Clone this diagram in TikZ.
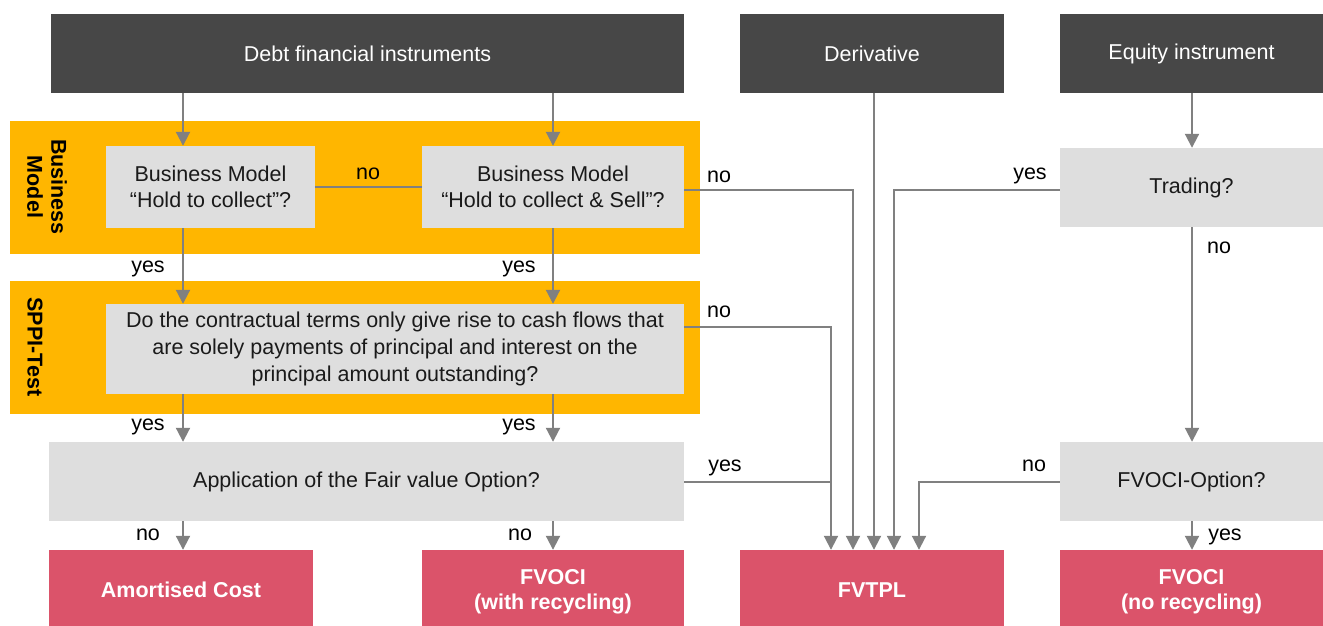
\documentclass[tikz,border=0pt]{standalone}
\usepackage{fontspec}
\setmainfont{Liberation Sans}
\usetikzlibrary{arrows.meta}
\definecolor{darkbox}{HTML}{474747}
\definecolor{bandorange}{HTML}{FFB600}
\definecolor{qgray}{HTML}{DEDEDE}
\definecolor{resred}{HTML}{DB536A}
\definecolor{linegray}{HTML}{808080}
\definecolor{txt}{HTML}{1A1A1A}
\tikzset{
  base/.style={inner sep=0pt, align=center, font=\fontsize{21.5}{26.5}\selectfont},
  topbox/.style={base, fill=darkbox, text=white},
  qbox/.style={base, fill=qgray, text=txt},
  resbox/.style={base, fill=resred, text=white, font=\fontsize{21.5}{25}\selectfont\bfseries},
  band/.style={fill=bandorange, inner sep=0pt},
  sidelbl/.style={base, rotate=-90, font=\fontsize{21.5}{24}\selectfont\bfseries, text=black},
  lbl/.style={base, text=black},
  conn/.style={draw=linegray, line width=2pt},
  arr/.style={conn, -{Triangle[width=14pt,length=14pt]}}
}
\begin{document}
\begin{tikzpicture}[x=1pt,y=-1pt]
\useasboundingbox (0,0) rectangle (1323,626);
% bands
\node[band, minimum width=690, minimum height=133] (bmband) at (355,187.5) {};
\node[band, minimum width=690, minimum height=133] (sppiband) at (355,347.5) {};
\node[sidelbl] (bmlbl) at (47,187) {Business\\Model};
\node[sidelbl] (sppilbl) at (35,347) {SPPI-Test};
% top boxes
\node[topbox, minimum width=633, minimum height=79] (debt) at (367.5,53.5) {Debt financial instruments};
\node[topbox, minimum width=264, minimum height=79] (deriv) at (872,53.5) {Derivative};
\node[topbox, minimum width=263, minimum height=79] (equity) at (1191.5,53.5) {Equity instrument};
% question boxes
\node[qbox, minimum width=209, minimum height=82] (bm1) at (210.5,187) {Business Model\\``Hold to collect''?};
\node[qbox, minimum width=262, minimum height=82] (bm2) at (553,187) {Business Model\\``Hold to collect \& Sell''?};
\node[qbox, minimum width=578, minimum height=90, font=\fontsize{21.5}{27}\selectfont] (sppi) at (395,349) {Do the contractual terms only give rise to cash flows that\\are solely payments of principal and interest on the\\principal amount outstanding?};
\node[qbox, minimum width=635, minimum height=79] (fvo) at (366.5,481.5) {Application of the Fair value Option?};
\node[qbox, minimum width=263, minimum height=79] (trading) at (1191.5,187.5) {Trading?};
\node[qbox, minimum width=263, minimum height=79] (fvociopt) at (1191.5,481.5) {FVOCI-Option?};
% result boxes
\node[resbox, minimum width=264, minimum height=76] (amort) at (181,588) {\rule{0pt}{19pt}Amortised Cost};
\node[resbox, minimum width=262, minimum height=76] (fvoci1) at (553,588) {\rule{0pt}{23pt}FVOCI\\(with recycling)};
\node[resbox, minimum width=264, minimum height=76] (fvtpl) at (872,588) {\rule{0pt}{19pt}FVTPL};
\node[resbox, minimum width=263, minimum height=76] (fvoci2) at (1191.5,588) {\rule{0pt}{23pt}FVOCI\\(no recycling)};
% column coordinates
\coordinate (c1) at (183,0);
\coordinate (c2) at (553,0);
\coordinate (c3) at (1192,0);
\coordinate (f1) at (831,0);
\coordinate (f2) at (853,0);
\coordinate (f3) at (874,0);
\coordinate (f4) at (894,0);
\coordinate (f5) at (919,0);
\coordinate (r1) at (0,190);
\coordinate (r2) at (0,327);
\coordinate (r3) at (0,482);
% connectors: debt
\draw[arr] (debt.south -| c1) -- (bm1.north -| c1);
\draw[arr] (debt.south -| c2) -- (bm2.north -| c2);
\draw[conn] (bm1.east) -- (bm2.west);
\draw[arr] (bm1.south -| c1) -- (sppi.north -| c1);
\draw[arr] (bm2.south -| c2) -- (sppi.north -| c2);
\draw[arr] (sppi.south -| c1) -- (fvo.north -| c1);
\draw[arr] (sppi.south -| c2) -- (fvo.north -| c2);
\draw[arr] (fvo.south -| c1) -- (amort.north -| c1);
\draw[arr] (fvo.south -| c2) -- (fvoci1.north -| c2);
% to FVTPL
\draw[arr] (bm2.east |- r1) -| (fvtpl.north -| f2);
\draw[arr] (sppi.east |- r2) -| (fvtpl.north -| f1);
\draw[conn] (fvo.east |- r3) -| (sppi.east -| f1);
\draw[arr] (deriv.south -| f3) -- (fvtpl.north -| f3);
\draw[arr] (trading.west |- r1) -| (fvtpl.north -| f4);
\draw[arr] (fvociopt.west |- r3) -| (fvtpl.north -| f5);
% equity
\draw[arr] (equity.south -| c3) -- (trading.north -| c3);
\draw[arr] (trading.south -| c3) -- (fvociopt.north -| c3);
\draw[arr] (fvociopt.south -| c3) -- (fvoci2.north -| c3);
% labels
\node[lbl] (l1) at (368,174) {no};
\node[lbl] (l2) at (148,269) {yes};
\node[lbl] (l3) at (519,269) {yes};
\node[lbl] (l4) at (148,427) {yes};
\node[lbl] (l5) at (519,427) {yes};
\node[lbl] (l6) at (148,535) {no};
\node[lbl] (l7) at (520,535) {no};
\node[lbl] (l8) at (719,177) {no};
\node[lbl] (l9) at (719,312) {no};
\node[lbl] (l10) at (725,468) {yes};
\node[lbl] (l11) at (1030,176) {yes};
\node[lbl] (l12) at (1034,466) {no};
\node[lbl] (l13) at (1219,248) {no};
\node[lbl] (l14) at (1225,537) {yes};
\end{tikzpicture}
\end{document}
